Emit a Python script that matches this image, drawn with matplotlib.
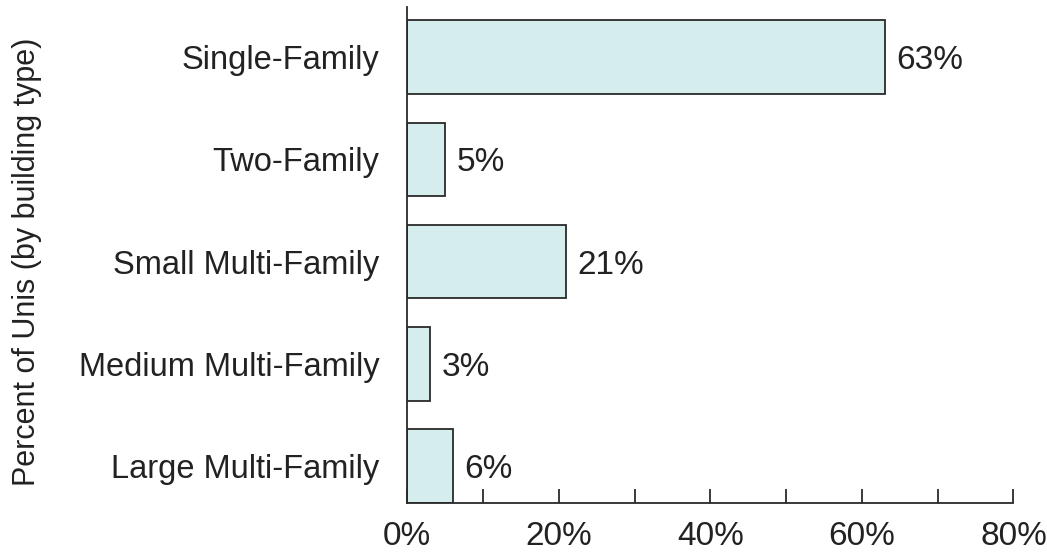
import matplotlib
matplotlib.use("Agg")
import matplotlib.pyplot as plt
from matplotlib.ticker import MultipleLocator, FuncFormatter

categories = ["Single-Family", "Two-Family", "Small Multi-Family",
              "Medium Multi-Family", "Large Multi-Family"]
values = [63, 5, 21, 3, 6]
value_labels = ["63%", "5%", "21%", "3%", "6%"]

plt.rcParams["font.family"] = ["Liberation Sans", "DejaVu Sans"]

fig = plt.figure(figsize=(10.47, 5.55), dpi=100)
ax = fig.add_axes([0.389, 0.094, 0.579, 0.893])

pos = list(range(len(categories)))
bars = ax.barh(pos, values, height=0.72, color="#d5eded",
               edgecolor="#2a2a2a", linewidth=1.3)

for b, lab in zip(bars, value_labels):
    ax.text(b.get_width() + 1.5, b.get_y() + b.get_height() / 2, lab,
            va="center_baseline", ha="left", fontsize=24, color="#222222")

ax.set_xlim(0, 80)
ax.set_ylim(4.36, -0.49)
ax.set_yticks(pos)
ax.set_yticklabels(categories, fontsize=23.5, color="#222222")
ax.tick_params(axis="y", length=0, pad=20)

ax.xaxis.set_major_locator(MultipleLocator(20))
ax.xaxis.set_minor_locator(MultipleLocator(10))
ax.xaxis.set_major_formatter(FuncFormatter(lambda v, p: f"{v:.0f}%"))
ax.tick_params(axis="x", which="both", direction="in", length=10,
               width=1.3, color="#2a2a2a", labelsize=24,
               labelcolor="#222222", pad=13)

for s in ("top", "right"):
    ax.spines[s].set_visible(False)
for s in ("left", "bottom"):
    ax.spines[s].set_linewidth(1.3)
    ax.spines[s].set_color("#2a2a2a")

fig.text(0.026, 0.528, "Percent of Unis (by building type)", rotation=90,
         va="center", ha="center", fontsize=22, color="#222222")

fig.savefig("out.png", dpi=100)
